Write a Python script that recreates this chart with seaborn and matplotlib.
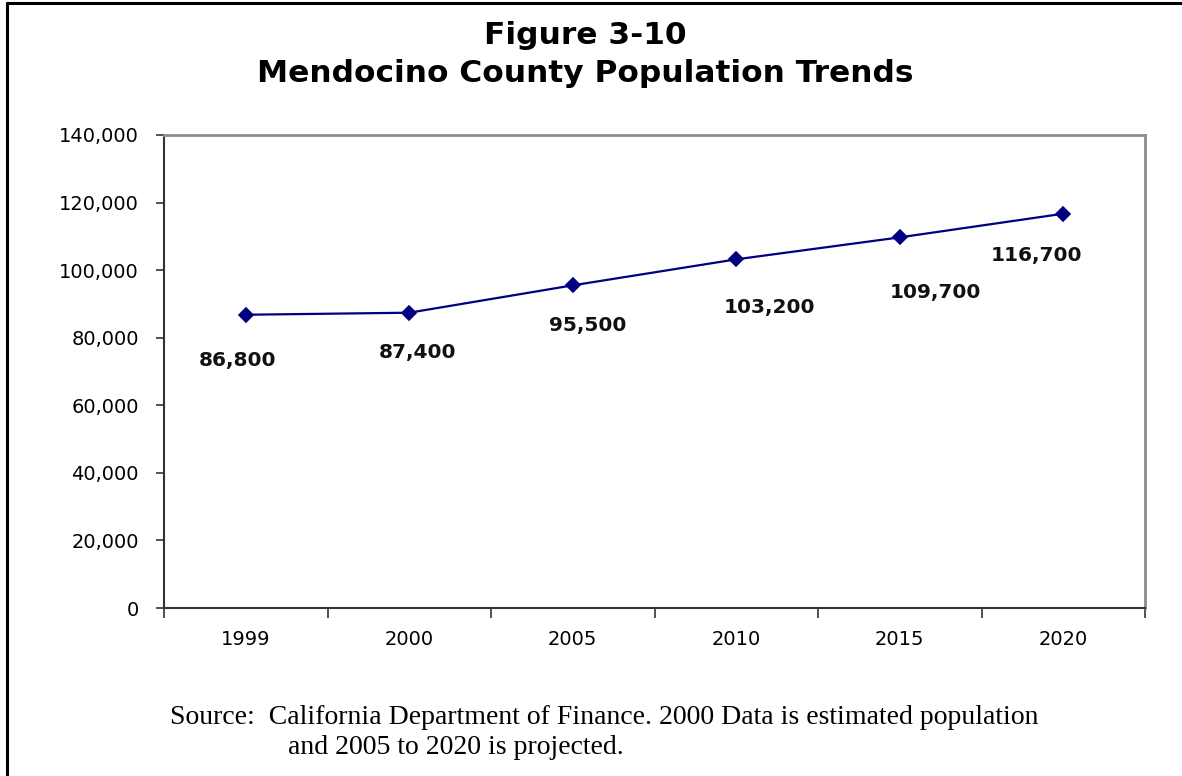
import numpy as np
import pandas as pd
import matplotlib
matplotlib.use("Agg")
import matplotlib.pyplot as plt
from matplotlib.lines import Line2D
from matplotlib.ticker import FuncFormatter
import seaborn as sns

# Population estimates / projections for Mendocino County
years = ["1999", "2000", "2005", "2010", "2015", "2020"]
population = [86800, 87400, 95500, 103200, 109700, 116700]
value_labels = ["86,800", "87,400", "95,500", "103,200", "109,700", "116,700"]

# label offsets (points) relative to each marker
label_dx = [-6, 6, 11, 24, 26, -19]
label_dy = [-33, -29, -29, -35, -40, -30]

y_ticks = [0, 20000, 40000, 60000, 80000, 100000, 120000, 140000]

sns.set_theme(style="white")
plt.rcParams["font.family"] = ["DejaVu Sans"]

df = pd.DataFrame({"year": years, "population": population})

fig = plt.figure(figsize=(11.82, 7.76), dpi=100)
ax = fig.add_axes([164 / 1182, 1 - 608 / 776, (1145 - 164) / 1182, (608 - 135) / 776])

navy = "#000080"
sns.pointplot(data=df, x="year", y="population", color=navy, markers="D",
              linestyles="-", errorbar=None, markersize=7.6, linewidth=1.6, ax=ax)

ax.set_xlim(-0.5, len(years) - 0.5)
ax.set_ylim(0, 140000)
ax.set_yticks(y_ticks)
ax.yaxis.set_major_formatter(FuncFormatter(lambda v, p: f"{int(v):,}"))
ax.set_xticks(range(len(years)))
ax.set_xticklabels(years)
ax.set_xticks(np.arange(-0.5, len(years), 1.0), minor=True)
ax.set_xlabel("")
ax.set_ylabel("")

ax.tick_params(axis="x", which="major", length=0, pad=16, labelsize=14, colors="black")
ax.tick_params(axis="x", which="minor", length=7, width=1.2, color="#333333", bottom=True, direction="out")
ax.tick_params(axis="y", which="major", length=6, width=1.2, color="#333333", left=True,
               direction="out", pad=12, labelsize=14, labelcolor="black")

for side in ["left", "bottom"]:
    ax.spines[side].set_color("#333333")
    ax.spines[side].set_linewidth(1.5)
for side in ["top", "right"]:
    ax.spines[side].set_visible(True)
    ax.spines[side].set_color("#8c8c8c")
    ax.spines[side].set_linewidth(2.0)
ax.grid(False)

for i, (val, lab) in enumerate(zip(population, value_labels)):
    ax.annotate(lab, xy=(i, val), xytext=(label_dx[i], label_dy[i]),
                textcoords="offset points", ha="center", va="center",
                fontsize=14.5, fontweight="bold", color="#111111")

fig.text(0.495, 1 - 35 / 776, "Figure 3-10", ha="center", va="center",
         fontsize=22.5, fontweight="bold", color="black")
fig.text(0.495, 1 - 74 / 776, "Mendocino County Population Trends", ha="center", va="center",
         fontsize=22.5, fontweight="bold", color="black")

serif = ["Liberation Serif", "DejaVu Serif"]
fig.text(170 / 1182, 1 - 717 / 776,
         "Source:  California Department of Finance. 2000 Data is estimated population",
         ha="left", va="center", fontsize=20, family=serif, color="black")
fig.text(288 / 1182, 1 - 747 / 776, "and 2005 to 2020 is projected.",
         ha="left", va="center", fontsize=20, family=serif, color="black")

# outer frame along the top and left edges
fig.add_artist(Line2D([7 / 1182, 1.0], [1 - 3 / 776, 1 - 3 / 776],
                      transform=fig.transFigure, color="black", linewidth=2.2))
fig.add_artist(Line2D([7 / 1182, 7 / 1182], [0.0, 1 - 3 / 776],
                      transform=fig.transFigure, color="black", linewidth=2.2))

fig.savefig("out.png", dpi=100)
